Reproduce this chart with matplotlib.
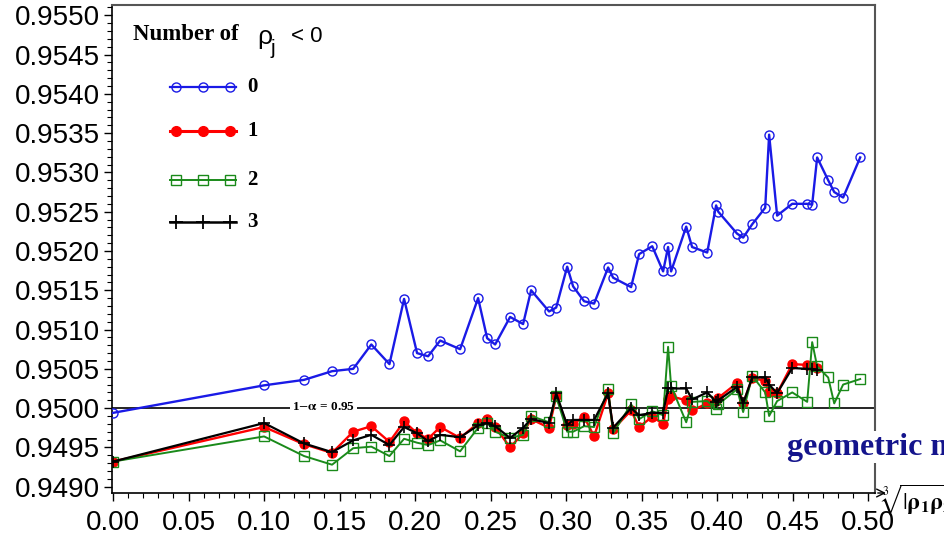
import matplotlib
matplotlib.use("Agg")
import matplotlib.pyplot as plt
from matplotlib.lines import Line2D
from matplotlib.ticker import MultipleLocator, FormatStrFormatter

# ---------------- data ----------------
x_vals = [0.0, 0.100, 0.1265, 0.145, 0.159, 0.171, 0.183, 0.1927, 0.2013, 0.2086,
          0.2166, 0.2298, 0.2417, 0.2477, 0.2530, 0.2629, 0.2715, 0.2768, 0.2887, 0.2934,
          0.3007, 0.3046, 0.3119, 0.3185, 0.3278, 0.3311, 0.3430, 0.3483, 0.3570, 0.3642,
          0.3675, 0.3695, 0.3795, 0.3834, 0.3934, 0.3993, 0.4007, 0.4132, 0.4172, 0.4232,
          0.4318, 0.4344, 0.4397, 0.4497, 0.4596, 0.4629, 0.4662, 0.4735, 0.4775, 0.4834,
          0.4947]

neg0 = [0.94994, 0.95029, 0.95036, 0.95047, 0.95050, 0.95081, 0.95056, 0.95139, 0.95070, 0.95066,
        0.95086, 0.95075, 0.95140, 0.95089, 0.95081, 0.95116, 0.95107, 0.95150, 0.95123, 0.95128,
        0.95180, 0.95155, 0.95136, 0.95133, 0.95179, 0.95166, 0.95154, 0.95196, 0.95206, 0.95174,
        0.95205, 0.95174, 0.95231, 0.95205, 0.95198, 0.95258, 0.95250, 0.95222, 0.95217, 0.95234,
        0.95255, 0.95348, 0.95245, 0.95260, 0.95260, 0.95259, 0.95319, 0.95290, 0.95275, 0.95268,
        0.95319]

neg1 = [0.94932, 0.94976, 0.94954, 0.94943, 0.94970, 0.94977, 0.94957, 0.94983, 0.94968, 0.94961,
        0.94976, 0.94962, 0.94981, 0.94986, 0.94976, 0.94950, 0.94968, 0.94986, 0.94975, 0.95015,
        0.94978, 0.94980, 0.94989, 0.94964, 0.95019, 0.94973, 0.94997, 0.94976, 0.94989, 0.94980,
        0.95012, 0.95015, 0.95010, 0.94997, 0.95006, 0.95009, 0.95013, 0.95032, 0.95006, 0.95038,
        0.95035, 0.95020, 0.95019, 0.95056, 0.95055, 0.95053, 0.95051]

neg2 = [0.94932, 0.94964, 0.94939, 0.94928, 0.94949, 0.94951, 0.94939, 0.94961, 0.94956, 0.94953,
        0.94959, 0.94945, 0.94975, 0.94981, 0.94970, 0.94962, 0.94966, 0.94990, 0.94982, 0.95015,
        0.94970, 0.94970, 0.94977, 0.94976, 0.95024, 0.94968, 0.95005, 0.94986, 0.94996, 0.94991,
        0.95078, 0.95028, 0.94982, 0.95008, 0.95009, 0.94999, 0.95005, 0.95024, 0.94995, 0.95041,
        0.95020, 0.94990, 0.95009, 0.95020, 0.95008, 0.95084, 0.95053, 0.95039, 0.95006, 0.95030,
        0.95037]

neg3 = [0.94932, 0.94981, 0.94955, 0.94944, 0.94959, 0.94966, 0.94953, 0.94976, 0.94968, 0.94958,
        0.94966, 0.94963, 0.94978, 0.94981, 0.94977, 0.94962, 0.94975, 0.94986, 0.94981, 0.95019,
        0.94978, 0.94985, 0.94985, 0.94985, 0.95019, 0.94975, 0.95000, 0.94991, 0.94994, 0.94994,
        0.95025, 0.95025, 0.95025, 0.95011, 0.95020, 0.95008, 0.95010, 0.95027, 0.95006, 0.95039,
        0.95039, 0.95030, 0.95019, 0.95051, 0.95050, 0.95050, 0.95048]

legend_labels = ["0", "1", "2", "3"]
ref_level = 0.95

# ---------------- figure ----------------
W, H = 944, 538
fig = plt.figure(figsize=(W / 100, H / 100), dpi=100)
plt.rcParams['mathtext.fontset'] = 'stix'


def fx(px):
    return px / W


def fy(py):
    return 1 - py / H


ax = fig.add_axes([fx(112), fy(493), fx(875) - fx(112), fy(5) - fy(493)])

c_blue = '#1a1ae6'
c_red = '#ff0000'
c_green = '#1a8a1a'

ax.plot(x_vals, neg0, color=c_blue, lw=1.7, marker='o', ms=6.5, mfc='none',
        mec=c_blue, mew=1.0, zorder=3)
ax.plot(x_vals[:len(neg1)], neg1, color=c_red, lw=1.7, marker='o', ms=6.5,
        mfc=c_red, mec=c_red, zorder=4)
ax.plot(x_vals[:len(neg2)], neg2, color=c_green, lw=1.4, marker='s', ms=6.5,
        mfc='none', mec=c_green, mew=1.0, zorder=5)
ax.plot(x_vals[:len(neg3)], neg3, color='black', lw=1.6, marker='+', ms=9,
        mew=1.2, zorder=6)

ax.axhline(ref_level, color='black', lw=1.2, zorder=2)
ax.text(0.1395, ref_level + 0.00001, r'1$-\mathbf{\alpha}$ = 0.95', ha='center', va='center',
        fontsize=9.5, fontweight='bold', family='Liberation Serif',
        bbox=dict(facecolor='white', edgecolor='none', pad=1.5), zorder=3)

ax.set_xlim(-0.0007, 0.5045)
ax.set_ylim(0.94892, 0.95513)

ax.xaxis.set_major_locator(MultipleLocator(0.05))
ax.xaxis.set_minor_locator(MultipleLocator(0.01))
ax.yaxis.set_major_locator(MultipleLocator(0.0005))
ax.yaxis.set_minor_locator(MultipleLocator(0.0001))
ax.xaxis.set_major_formatter(FormatStrFormatter('%.2f'))
ax.yaxis.set_major_formatter(FormatStrFormatter('%.4f'))

ax.tick_params(axis='both', which='major', direction='out', length=6, width=1.0,
               labelsize=20, colors='black')
ax.tick_params(axis='both', which='minor', direction='out', length=3.5, width=0.8)
ax.tick_params(axis='x', which='major', pad=6)
ax.tick_params(axis='y', which='major', pad=3)
for lab in ax.get_xticklabels() + ax.get_yticklabels():
    lab.set_family('Liberation Sans')

for s in ['left', 'bottom']:
    ax.spines[s].set_color('black')
    ax.spines[s].set_linewidth(1.2)
for s in ['top', 'right']:
    ax.spines[s].set_color('#555555')
    ax.spines[s].set_linewidth(1.5)

# arrow continuation of x-axis
ax.annotate('', xy=(1.018, 0), xytext=(1.0, 0), xycoords='axes fraction',
            arrowprops=dict(arrowstyle='->', color='black', lw=1.0,
                            mutation_scale=14), annotation_clip=False)

# ---------------- legend (drawn manually) ----------------
fig.text(fx(133), fy(35), 'Number of', family='Liberation Serif', fontweight='bold',
         fontsize=16.5, ha='left', va='center')
fig.text(fx(257), fy(37), 'ρ', family='Liberation Sans', fontsize=19, ha='left', va='center')
fig.text(fx(271), fy(48), 'j', family='Liberation Sans', fontsize=15, ha='left', va='center')
fig.text(fx(291), fy(36), '< 0', family='Liberation Sans', fontsize=16, ha='left', va='center')

leg_y = [87, 131, 180, 222]
styles = [
    dict(color=c_blue, marker='o', ms=6.5, mfc='none', mec=c_blue, mew=1.0, lw=1.6),
    dict(color=c_red, marker='o', ms=7, mfc=c_red, mec=c_red, lw=2.2),
    dict(color=c_green, marker='s', ms=6.5, mfc='none', mec=c_green, mew=1.0, lw=1.4),
    dict(color='black', marker='+', ms=10, mew=1.3, lw=1.8),
]
for yy, st, lab in zip(leg_y, styles, legend_labels):
    fig.add_artist(Line2D([fx(170), fx(236)], [fy(yy), fy(yy)], transform=fig.transFigure,
                          color=st['color'], lw=st['lw']))
    mk = {k: v for k, v in st.items() if k != 'lw'}
    fig.add_artist(Line2D([fx(176), fx(203), fx(230)], [fy(yy)] * 3, transform=fig.transFigure,
                          linestyle='none', **mk))
    fig.text(fx(247), fy(yy), lab, family='Liberation Serif', fontweight='bold',
             fontsize=15, ha='left', va='center')

# ---------------- annotations at right ----------------
fig.text(fx(787), fy(447), 'geometric mean', family='Liberation Serif', fontweight='bold',
         fontsize=23, color='#14148c', ha='left', va='center',
         bbox=dict(facecolor='white', edgecolor='none', pad=1))
fig.text(fx(880), fy(500), r'$\sqrt[3]{|\mathbf{\rho_1\rho_2\rho_3}|}$', fontsize=17,
         ha='left', va='center')

fig.savefig('out.png', dpi=100)
